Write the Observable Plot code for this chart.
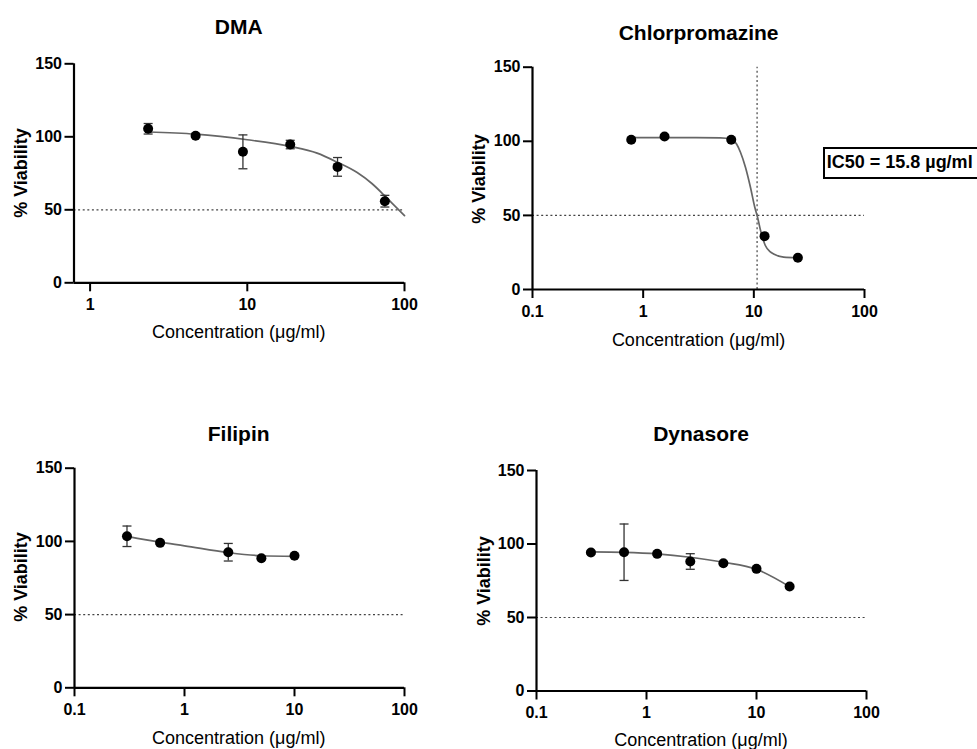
<!DOCTYPE html>
<html>
<head>
<meta charset="utf-8">
<script src="https://cdn.jsdelivr.net/npm/d3@7"></script>
<script src="https://cdn.jsdelivr.net/npm/@observablehq/plot@0.6"></script>
<style>
html, body { margin: 0; padding: 0; background: #fff; overflow: hidden; width: 977px; height: 749px; }
#root { position: relative; width: 977px; height: 749px; font-family: "Liberation Sans", Arial, sans-serif; color: #000; }
.panel { position: absolute; }
.lbl { position: absolute; white-space: nowrap; transform: translate(-50%, -50%); line-height: 1; }
.title { font-weight: bold; font-size: 21px; }
.xlab { font-size: 18px; }
.ylab { font-weight: bold; font-size: 18px; transform: translate(-50%, -50%) rotate(-90deg); }
.ic50 { position: absolute; left: 822.7px; top: 147.3px; width: 165px; height: 32px; box-sizing: border-box;
        border: 2.5px solid #000; font-weight: bold; font-size: 18px; line-height: 27px; padding-left: 2px; white-space: nowrap; background: #fff; }
</style>
</head>
<body>
<div id="root"></div>
<script>
// ---------- DATA ----------
// DMA
const dmaConc = [2.34, 4.69, 9.38, 18.75, 37.5, 75];
const dmaViab = [105.5, 100.7, 89.7, 94.7, 79.4, 55.9];
const dmaErr  = [3.6, 1.0, 11.6, 2.9, 6.4, 4.0];
const dmaFitConc = [2.34, 4.69, 10, 18.8, 27.8, 37.5, 50, 62, 75, 87, 100];
const dmaFitViab = [103.3, 101.8, 98, 93.4, 88.8, 82.5, 75.5, 68, 59.5, 52.5, 46];

// Chlorpromazine
const cpzConc = [0.78, 1.56, 6.25, 12.5, 25];
const cpzViab = [101.0, 103.2, 101.0, 36.0, 21.4];
const cpzErr  = [0, 0, 0, 0, 0];
const cpzFitConc = [0.78, 1.56, 3, 5, 6.25, 7.0, 7.57, 8.4, 9.32, 10.2, 10.8, 11.5, 12.7, 14, 15.1, 18.6, 24.5];
const cpzFitViab = [102.5, 102.5, 102.5, 102.3, 101.5, 98, 92.6, 82.5, 69, 55.5, 48.8, 39.8, 29.7, 25.5, 24, 21.8, 21.4];
const cpzIC50Line = 10.7;
const cpzIC50Text = "IC50 = 15.8 µg/ml";

// Filipin
const filConc = [0.3, 0.6, 2.5, 5, 10];
const filViab = [103.5, 99.0, 92.6, 88.5, 90.2];
const filErr  = [7.0, 0.8, 6.0, 0.8, 0.8];
const filFitConc = [0.3, 0.6, 1, 2.5, 5, 10];
const filFitViab = [103.5, 99.5, 97, 92.3, 90.2, 89.8];

// Dynasore
const dynConc = [0.3125, 0.625, 1.25, 2.5, 5, 10, 20];
const dynViab = [94.2, 94.4, 93.3, 88.1, 86.9, 83.1, 71.1];
const dynErr  = [0.8, 19.2, 0.8, 5.3, 0.8, 0.8, 0.8];
const dynFitConc = [0.3125, 0.625, 1.25, 2.5, 5, 10, 20];
const dynFitViab = [94.6, 94.3, 93.3, 91.0, 87.6, 82.8, 71.0];

// Axis ticks
const yTicks = [0, 50, 100, 150];
const xTicksDMA = [1, 10, 100];
const xTicksOther = [0.1, 1, 10, 100];

const titles = ["DMA", "Chlorpromazine", "Filipin", "Dynasore"];
const xLabel = "Concentration (\u03BCg/ml)";
const yLabel = "% Viability";

// ---------- DRAWING ----------
const root = document.getElementById("root");

const capSymbol = {
  draw(ctx, size) {
    const r = Math.sqrt(size / Math.PI);
    ctx.moveTo(-r, 0);
    ctx.lineTo(r, 0);
  }
};

function rows(xs, ys, es) {
  return xs.map((x, i) => ({x, y: ys[i], lo: ys[i] - (es ? es[i] : 0), hi: ys[i] + (es ? es[i] : 0)}));
}

function panel(cfg) {
  const pts = rows(cfg.conc, cfg.viab, cfg.err);
  const errPts = pts.filter((d, i) => cfg.err[i] > 0);
  const fit = rows(cfg.fitConc, cfg.fitViab);
  const marks = [
    Plot.ruleY([50], {stroke: "#444", strokeWidth: 1.2, strokeDasharray: "2,2.6"})
  ];
  if (cfg.vline) marks.push(Plot.ruleX([cfg.vline], {y1: 0, y2: 150, stroke: "#444", strokeWidth: 1.2, strokeDasharray: "2,2.6"}));
  marks.push(
    Plot.line(fit, {x: "x", y: "y", curve: "monotone-x", stroke: "#666", strokeWidth: 1.7}),
    Plot.ruleX(errPts, {x: "x", y1: "lo", y2: "hi", stroke: "#333", strokeWidth: 1.3}),
    Plot.dot(errPts, {x: "x", y: "hi", symbol: capSymbol, r: 4.5, stroke: "#333", strokeWidth: 1.3, fill: "none"}),
    Plot.dot(errPts, {x: "x", y: "lo", symbol: capSymbol, r: 4.5, stroke: "#333", strokeWidth: 1.3, fill: "none"}),
    Plot.dot(pts, {x: "x", y: "y", r: 5, fill: "#000", stroke: "none"}),
    Plot.ruleY([0], {stroke: "#000", strokeWidth: 2.2}),
    Plot.ruleX([cfg.xDomain[0]], {y1: 0, y2: 150, stroke: "#000", strokeWidth: 2.2}),
    Plot.axisX({ticks: cfg.xTicks, tickSize: 9, tickPadding: 7, strokeWidth: 2, stroke: "#000", fill: "#000",
                tickFormat: d => String(d), label: null}),
    Plot.axisY({ticks: yTicks, tickSize: 9, tickPadding: 3, strokeWidth: 2, stroke: "#000", fill: "#000", label: null})
  );
  const chart = Plot.plot({
    width: cfg.w, height: cfg.h,
    marginLeft: cfg.ml, marginRight: cfg.mr, marginTop: cfg.mt, marginBottom: cfg.mb,
    x: {type: "log", domain: cfg.xDomain},
    y: {domain: [0, 150]},
    style: {fontFamily: "'Liberation Sans', Arial, sans-serif", fontSize: "16px", fontWeight: "bold",
            overflow: "visible", background: "transparent", color: "#000"},
    marks
  });
  const div = document.createElement("div");
  div.className = "panel";
  div.style.left = cfg.left + "px";
  div.style.top = cfg.top + "px";
  div.appendChild(chart);
  root.appendChild(div);

  const addLbl = (cls, text, x, y) => {
    const el = document.createElement("div");
    el.className = "lbl " + cls;
    el.textContent = text;
    el.style.left = x + "px";
    el.style.top = y + "px";
    root.appendChild(el);
  };
  addLbl("title", cfg.title, cfg.titlePos[0], cfg.titlePos[1]);
  addLbl("xlab", xLabel, cfg.xlabPos[0], cfg.xlabPos[1]);
  addLbl("ylab", yLabel, cfg.ylabPos[0], cfg.ylabPos[1]);
}

panel({
  title: titles[0], conc: dmaConc, viab: dmaViab, err: dmaErr, fitConc: dmaFitConc, fitViab: dmaFitViab,
  xDomain: [0.79, 100], xTicks: xTicksDMA,
  left: 0, top: 0, w: 420, h: 350, ml: 73.5, mr: 16, mt: 63.3, mb: 67.7,
  titlePos: [238.7, 26], xlabPos: [238.7, 331.7], ylabPos: [20.7, 172.5]
});
panel({
  title: titles[1], conc: cpzConc, viab: cpzViab, err: cpzErr, fitConc: cpzFitConc, fitViab: cpzFitViab,
  xDomain: [0.1, 100], xTicks: xTicksOther, vline: cpzIC50Line,
  left: 440, top: 0, w: 440, h: 360, ml: 92, mr: 16, mt: 66.7, mb: 71,
  titlePos: [698.6, 32], xlabPos: [698.6, 340], ylabPos: [479.4, 178.5]
});
panel({
  title: titles[2], conc: filConc, viab: filViab, err: filErr, fitConc: filFitConc, fitViab: filFitViab,
  xDomain: [0.1, 100], xTicks: xTicksOther,
  left: 0, top: 400, w: 420, h: 349, ml: 74, mr: 16, mt: 67.7, mb: 61.7,
  titlePos: [238.7, 432.5], xlabPos: [238.7, 738.3], ylabPos: [20.7, 576.7]
});
panel({
  title: titles[3], conc: dynConc, viab: dynViab, err: dynErr, fitConc: dynFitConc, fitViab: dynFitViab,
  xDomain: [0.1, 100], xTicks: xTicksOther,
  left: 440, top: 400, w: 440, h: 349, ml: 96, mr: 14, mt: 70, mb: 58.5,
  titlePos: [701, 433.3], xlabPos: [701, 740], ylabPos: [483.5, 580.5]
});

const box = document.createElement("div");
box.className = "ic50";
box.textContent = cpzIC50Text;
root.appendChild(box);
</script>
</body>
</html>
